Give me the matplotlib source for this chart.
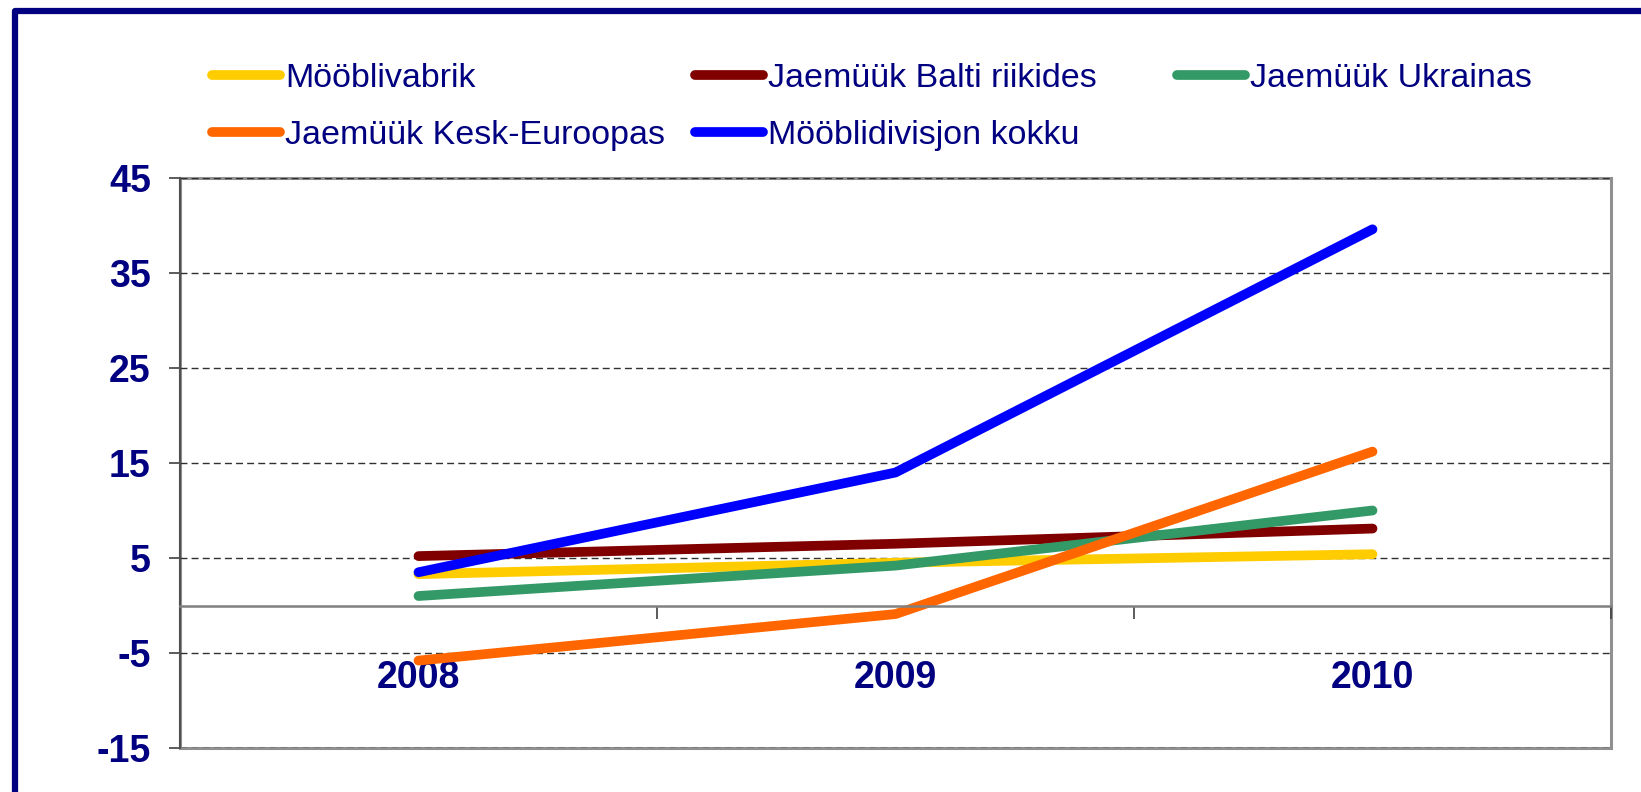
import matplotlib.pyplot as plt
from matplotlib.lines import Line2D
from matplotlib.patches import Rectangle

years = ["2008", "2009", "2010"]

moobli_vabrik = [3.3, 4.5, 5.4]
balti = [5.2, 6.5, 8.1]
ukraina = [1.0, 4.2, 10.0]
kesk_euroopa = [-5.8, -0.9, 16.2]
kokku = [3.5, 14.0, 39.6]

series_names = [
    "Mööblivabrik",
    "Jaemüük Balti riikides",
    "Jaemüük Ukrainas",
    "Jaemüük Kesk-Euroopas",
    "Mööblidivisjon kokku",
]
series_values = [moobli_vabrik, balti, ukraina, kesk_euroopa, kokku]
series_colors = ["#FFCC00", "#800000", "#339966", "#FF6600", "#0000FF"]

y_ticks = [-15, -5, 5, 15, 25, 35, 45]

navy = "#000080"
plt.rcParams["font.family"] = ["Liberation Sans", "DejaVu Sans"]

fig = plt.figure(figsize=(16.41, 7.92), dpi=100)
ax = fig.add_axes([180 / 1641, 1 - 748 / 792, 1431 / 1641, 570 / 792])

x = list(range(len(years)))
lines = {}
for name, vals, col in zip(series_names, series_values, series_colors):
    (ln,) = ax.plot(x, vals, color=col, lw=7, solid_capstyle="round", solid_joinstyle="round", label=name)
    lines[name] = ln

ax.set_xlim(-0.5, 2.5)
ax.set_ylim(-15, 45)

# y axis
ax.set_yticks(y_ticks)
ax.set_yticklabels([str(v) for v in y_ticks], fontsize=27, fontweight="bold", color=navy)
ax.tick_params(axis="y", length=8, width=1.2, color="#404040", pad=13, direction="out")
ax.yaxis.grid(True, color="#303030", lw=1, dashes=(5, 3))

# category axis crosses at zero
ax.spines["bottom"].set_position(("data", 0))
ax.spines["bottom"].set_color("#808080")
ax.spines["bottom"].set_linewidth(1.8)
ax.set_xticks(x)
ax.set_xticklabels(years, fontsize=27, fontweight="bold", color=navy)
ax.set_xticks([-0.5, 0.5, 1.5, 2.5], minor=True)
ax.tick_params(axis="x", which="major", length=0, pad=39)
ax.tick_params(axis="x", which="minor", length=9, width=1.2, color="#404040", direction="out")

for side in ["top", "right"]:
    ax.spines[side].set_visible(False)
ax.spines["left"].set_color("#505050")
ax.spines["left"].set_linewidth(1.5)
ax.add_patch(Rectangle((0, 0), 1, 1, transform=ax.transAxes, fill=False,
                       edgecolor="#909090", lw=2.2, clip_on=False, zorder=0.5))
ax.set_axisbelow(True)

# legend: one block per column so each column sits where Excel put it
legend_cols = [
    (212, [series_names[0], series_names[3]]),
    (695, [series_names[1], series_names[4]]),
    (1177, [series_names[2]]),
]
for left_px, names in legend_cols:
    fig.legend([lines[n] for n in names], names, loc="upper left",
               bbox_to_anchor=(left_px / 1641, 1 - 63 / 792), frameon=False,
               fontsize=24.5, labelcolor=navy, handlelength=2.0, handletextpad=0.15,
               labelspacing=0.75, borderpad=0, borderaxespad=0)

# outer navy frame (left and top edges)
fig.add_artist(Line2D([15 / 1641, 15 / 1641, 1], [0, 1 - 11 / 792, 1 - 11 / 792],
                      transform=fig.transFigure, color=navy, lw=4.5))

fig.savefig("out.png", dpi=100)
